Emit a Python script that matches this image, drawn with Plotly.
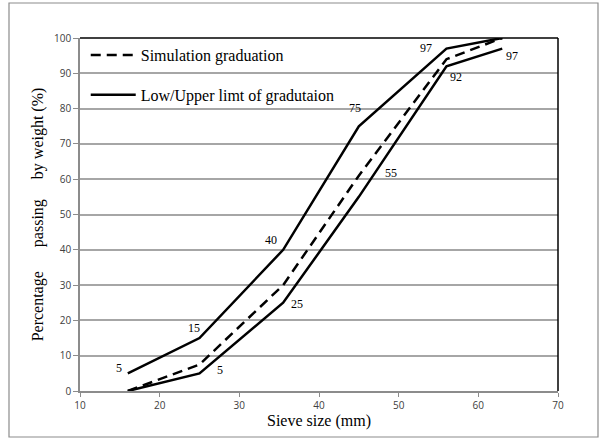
import plotly.graph_objects as go

# ---- data ----
sieve_sizes = [16, 25, 35.5, 45, 56, 63]
upper_limit = [5, 15, 40, 75, 97, 100]
lower_limit = [0, 5, 25, 55, 92, 97]
sim_sizes = [16, 19, 25, 35.5, 45, 56, 63]
simulation = [0, 2.5, 7.5, 30, 61, 94, 100]

upper_labels = ["5", "15", "40", "75", "97", ""]
lower_labels = ["", "5", "25", "55", "92", "97"]

x_ticks = [10, 20, 30, 40, 50, 60, 70]
y_ticks = [0, 10, 20, 30, 40, 50, 60, 70, 80, 90, 100]

# label pixel offsets (style)
upper_offsets = [(-9, 5), (-6, 10), (-12, 10), (-4, 18), (-20, 1), (0, 0)]
lower_offsets = [(0, 0), (20, 3), (14, -1), (32, 24), (10, -11), (10, -7)]

SERIF = "Liberation Serif"
SANS = "Open Sans"

fig = go.Figure()

fig.add_trace(go.Scatter(
    x=sim_sizes, y=simulation, mode="lines",
    name="Simulation graduation", legendgroup="a",
    line=dict(color="black", width=2.5, dash="10px,6px"),
))
fig.add_trace(go.Scatter(
    x=sieve_sizes, y=upper_limit, mode="lines",
    name="Low/Upper limt of gradutaion", legendgroup="b",
    line=dict(color="black", width=2.5),
))
fig.add_trace(go.Scatter(
    x=sieve_sizes, y=lower_limit, mode="lines",
    name="Low/Upper limt of gradutaion", legendgroup="b", showlegend=False,
    line=dict(color="black", width=2.5),
))

annotations = []
for xs, ys, labs, offs in [(sieve_sizes, upper_limit, upper_labels, upper_offsets),
                           (sieve_sizes, lower_limit, lower_labels, lower_offsets)]:
    for xv, yv, lab, (dx, dy) in zip(xs, ys, labs, offs):
        if not lab:
            continue
        annotations.append(dict(
            x=xv, y=yv, xref="x", yref="y", text=lab, showarrow=False,
            xshift=dx, yshift=dy, font=dict(family=SERIF, size=12, color="black"),
        ))

shapes = [
    # outer border
    dict(type="rect", xref="paper", yref="paper",
         x0=(9 - 80) / 478, x1=(598 - 80) / 478,
         y0=(391 - 437) / 353, y1=(391 - 3) / 353,
         line=dict(color="#8c8c8c", width=1.2), layer="below"),
    # top and right frame
    dict(type="line", xref="paper", yref="paper", x0=0, x1=1, y0=1, y1=1,
         line=dict(color="black", width=1.5)),
    dict(type="line", xref="paper", yref="paper", x0=1, x1=1, y0=0, y1=1,
         line=dict(color="black", width=1.5)),
]

fig.update_layout(
    width=604, height=439,
    margin=dict(l=80, r=46, t=38, b=48, autoexpand=False),
    paper_bgcolor="white", plot_bgcolor="white",
    showlegend=True,
    legend=dict(
        x=0.012, y=1.0, xanchor="left", yanchor="top",
        font=dict(family=SERIF, size=16, color="black"),
        bgcolor="rgba(0,0,0,0)", tracegroupgap=16, itemwidth=45,
        traceorder="grouped",
    ),
    annotations=annotations,
    shapes=shapes,
    xaxis=dict(
        range=[10, 70], tickvals=x_ticks, showgrid=False, zeroline=False,
        showline=True, linecolor="#8c8c8c", linewidth=1.5,
        ticks="outside", ticklen=4, tickcolor="#8c8c8c",
        tickfont=dict(family=SANS, size=10, color="#404040"),
        title=dict(text="Sieve size (mm)", font=dict(family=SERIF, size=16, color="black"), standoff=4),
    ),
    yaxis=dict(
        range=[0, 100], tickvals=y_ticks, showgrid=True, gridcolor="#a6a6a6", gridwidth=1.5,
        zeroline=False, showline=True, linecolor="#8c8c8c", linewidth=1.5,
        ticks="outside", ticklen=5, tickcolor="#8c8c8c",
        tickfont=dict(family=SANS, size=10, color="#404040"),
        title=dict(text="Percentage\u00a0\u00a0\u00a0\u00a0\u00a0 passing\u00a0\u00a0\u00a0\u00a0 by weight (%)",
                   font=dict(family=SERIF, size=16, color="black"), standoff=6),
    ),
)

fig.write_html(
    "out.html",
    config={"displayModeBar": False},
    post_script="document.body.style.margin='0';document.body.style.padding='0';",
)
